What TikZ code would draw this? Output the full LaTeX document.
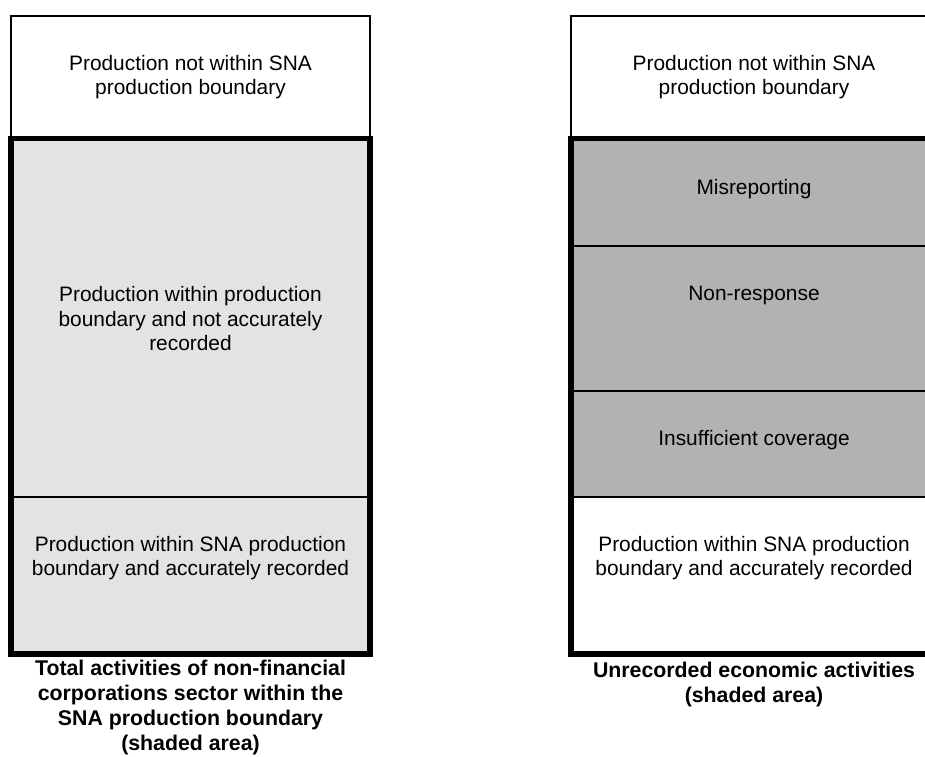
\documentclass[tikz,border=0pt]{standalone}
\usepackage{fontspec}
\setmainfont{Liberation Sans}
\definecolor{lightshade}{HTML}{E3E3E3}
\definecolor{darkshade}{HTML}{B2B2B2}
\begin{document}
\begin{tikzpicture}[x=1pt,y=-1pt,
  thinbox/.style={draw=black,line width=2pt},
  thickbox/.style={draw=black,line width=5.5pt},
  divider/.style={draw=black,line width=2.4pt},
  lbl/.style={font=\fontsize{20.9}{24.5}\selectfont,align=center,inner sep=0pt},
  captext/.style={font=\fontsize{21.3}{25}\selectfont\bfseries,align=center,inner sep=0pt}]
\clip (0,0) rectangle (925,756);
\fill[white] (0,0) rectangle (925,756);
% left column
\fill[lightshade] (11,138.5) rectangle (370,654);
\draw[divider] (11,497) -- (370,497);
\draw[thinbox] (11,16) rectangle (370,138.5);
\draw[thickbox] (11,138.5) rectangle (370,654);
% right column
\fill[darkshade] (571,138.5) rectangle (937,497);
\draw[divider] (571,246) -- (937,246);
\draw[divider] (571,391) -- (937,391);
\draw[divider] (571,497) -- (937,497);
\draw[thinbox] (571,16) rectangle (937,138.5);
\draw[thickbox] (571,138.5) rectangle (937,654);
% left texts
\node[lbl] (ltop) at (190.5,77) {Production not within SNA\\production boundary};
\node[lbl] (lmid) at (190.5,319) {Production within production\\boundary and not accurately\\recorded};
\node[lbl] (lbot) at (190.5,558) {Production within SNA production\\boundary and accurately recorded};
\node[captext] (lcap) at (190.5,707) {Total activities of non-financial\\corporations sector within the\\SNA production boundary\\(shaded area)};
% right texts
\node[lbl] (rtop) at (754,77) {Production not within SNA\\production boundary};
\node[lbl] (rmis) at (754,189) {Misreporting};
\node[lbl] (rnon) at (754,295) {Non-response};
\node[lbl] (rins) at (754,440) {Insufficient coverage};
\node[lbl] (rbot) at (754,558) {Production within SNA production\\boundary and accurately recorded};
\node[captext] (rcap) at (754,684) {Unrecorded economic activities\\(shaded area)};
\end{tikzpicture}
\end{document}
